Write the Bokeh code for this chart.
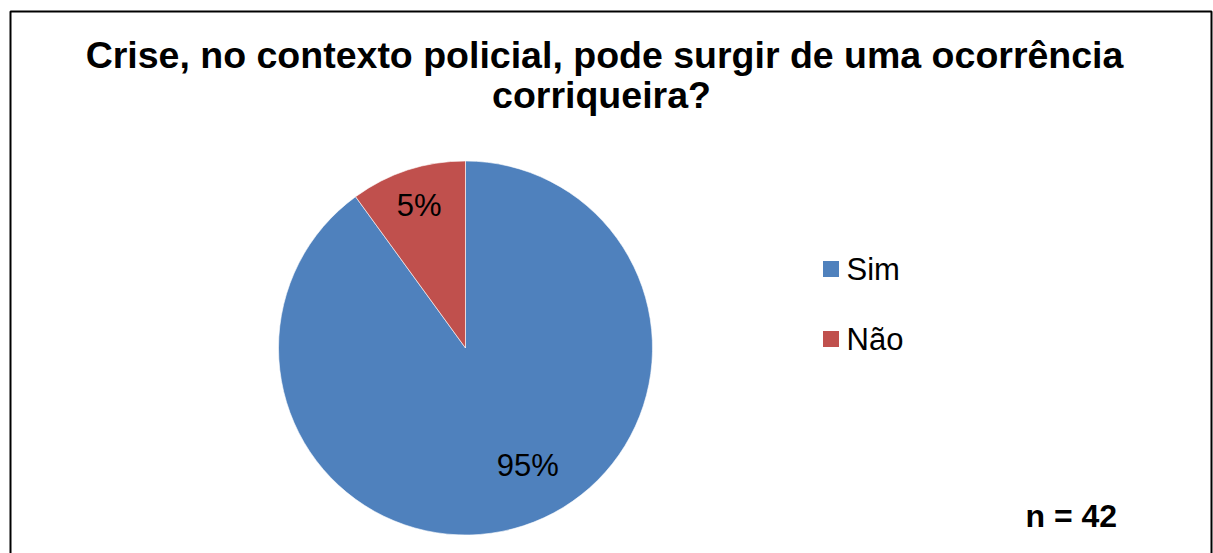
import math
from bokeh.plotting import figure
from bokeh.models import Range1d, ColumnDataSource
from bokeh.core.properties import value
from bokeh.embed import file_html
from bokeh.resources import INLINE

# ---- data ----
categories = ["Sim", "Não"]
shares = [90, 10]            # slice sizes as drawn
pct_labels = ["95%", "5%"]   # data labels as printed
colors = ["#4F81BD", "#C0504D"]
title_lines = ["Crise, no contexto policial, pode surgir de uma ocorrência", "corriqueira?"]
note = "n = 42"

W, H = 1213, 553
def px(X):  # image x -> data x
    return X
def py(Y):  # image y -> data y (y up)
    return H - Y

p = figure(width=W, height=H, x_range=Range1d(0, W), y_range=Range1d(0, H),
           output_backend="svg", toolbar_location=None, min_border=0)
p.axis.visible = False
p.grid.visible = False
p.outline_line_color = None
p.background_fill_color = "white"

# frame
p.quad(left=[px(10)], right=[px(1211)], top=[py(11)], bottom=[py(600)],
       fill_color=None, line_color="black", line_width=2)

# pie
cx, cy, R = px(465), py(347.5), 187
total = sum(shares)
starts, ends, mids = [], [], []
a = math.pi / 2
for s in shares:
    da = 2 * math.pi * s / total
    starts.append(a)
    ends.append(a - da)
    mids.append(a - da / 2)
    a -= da
src = ColumnDataSource(dict(start=starts, end=ends, color=colors, cat=categories))
p.wedge(x=cx, y=cy, radius=R, start_angle="start", end_angle="end", direction="clock",
        fill_color="color", line_color="white", line_width=0.6, source=src)

# data labels
label_r = [0.71, 0.80]
label_shift = [math.radians(10), 0.0]
lx = [cx + R * r * math.cos(m + sh) for r, m, sh in zip(label_r, mids, label_shift)]
ly = [cy + R * r * math.sin(m + sh) for r, m, sh in zip(label_r, mids, label_shift)]
p.text(x=lx, y=ly, text=pct_labels, text_align="center", text_baseline="middle",
       text_font=value("Liberation Sans"), text_font_size="31px", text_color="black")

# title
p.text(x=[px(604), px(601)], y=[py(54), py(94)], text=title_lines,
       text_align="center", text_baseline="middle",
       text_font=value("Liberation Sans"), text_font_style="bold",
       text_font_size="37.5px", text_color="black")

# legend
leg_y = [py(268.5), py(338.5)]
p.rect(x=[px(830.5)] * 2, y=leg_y, width=16, height=16, fill_color=colors, line_color=None)
p.text(x=[px(846)] * 2, y=leg_y, text=categories,
       text_align="left", text_baseline="middle",
       text_font=value("Liberation Sans"), text_font_size="31px", text_color="black")

# n note
p.text(x=[px(1025)], y=[py(515)], text=[note], text_align="left", text_baseline="middle",
       text_font=value("Liberation Sans"), text_font_style="bold",
       text_font_size="32px", text_color="black")

open("out.html", "w").write(file_html(p, INLINE))
